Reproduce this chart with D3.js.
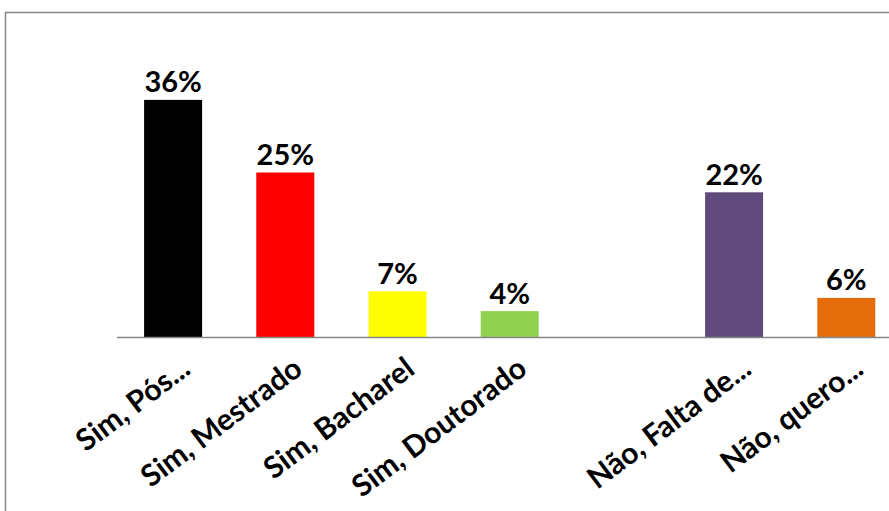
<!DOCTYPE html>
<html>
<head>
<meta charset="utf-8">
<script src="https://cdn.jsdelivr.net/npm/d3@7"></script>
<style>
  html, body { margin: 0; padding: 0; background: #fff; }
  svg { display: block; }
</style>
</head>
<body>
<svg id="chart" width="889" height="511"></svg>
<script>
const categories = ["Sim, Pós...", "Sim, Mestrado", "Sim, Bacharel", "Sim, Doutorado", "", "Não, Falta de...", "Não, quero..."];
const values = [0.36, 0.25, 0.07, 0.04, null, 0.22, 0.06];
const colors = ["#000000", "#FF0000", "#FFFF00", "#92D050", "none", "#604A7B", "#E46C0A"];

const svg = d3.select("#chart");
const baseY = 337.5;

// chart border
svg.append("rect")
  .attr("x", 5.5).attr("y", 12.5)
  .attr("width", 920).attr("height", 540)
  .attr("fill", "none").attr("stroke", "#868686").attr("stroke-width", 1.5);

const x = d3.scaleBand()
  .domain(d3.range(categories.length))
  .range([117, 902.4])
  .paddingInner(0.483)
  .paddingOuter(0.2415);

const y = d3.scaleLinear().domain([0, 0.40]).range([baseY, baseY - 40 * 6.6]);

const data = categories.map((c, i) => ({ c, v: values[i], col: colors[i], i }));

svg.append("g").selectAll("rect")
  .data(data.filter(d => d.v != null))
  .join("rect")
  .attr("x", d => x(d.i))
  .attr("y", d => y(d.v))
  .attr("width", x.bandwidth())
  .attr("height", d => baseY - y(d.v))
  .attr("fill", d => d.col);

// axis line
svg.append("line")
  .attr("x1", x.range()[0]).attr("x2", x.range()[1])
  .attr("y1", baseY).attr("y2", baseY)
  .attr("stroke", "#868686").attr("stroke-width", 1.5);

// value labels
svg.append("g").selectAll("text")
  .data(data.filter(d => d.v != null))
  .join("text")
  .attr("x", d => x(d.i) + x.bandwidth() / 2)
  .attr("y", d => y(d.v) - 7.5)
  .attr("text-anchor", "middle")
  .attr("font-family", "Lato, 'Open Sans', sans-serif")
  .attr("font-weight", "bold")
  .attr("font-size", 29)
  .attr("fill", "#000")
  .text(d => Math.round(d.v * 100) + "%");

// category labels
svg.append("g").selectAll("text")
  .data(data.filter(d => d.c !== ""))
  .join("text")
  .attr("transform", d => `translate(${x(d.i) + x.bandwidth() / 2 + 19},${baseY + 35}) rotate(-37)`)
  .attr("text-anchor", "end")
  .attr("font-family", "Lato, 'Open Sans', sans-serif")
  .attr("font-weight", "bold")
  .attr("font-size", 30)
  .attr("fill", "#000")
  .text(d => d.c);
</script>
</body>
</html>
